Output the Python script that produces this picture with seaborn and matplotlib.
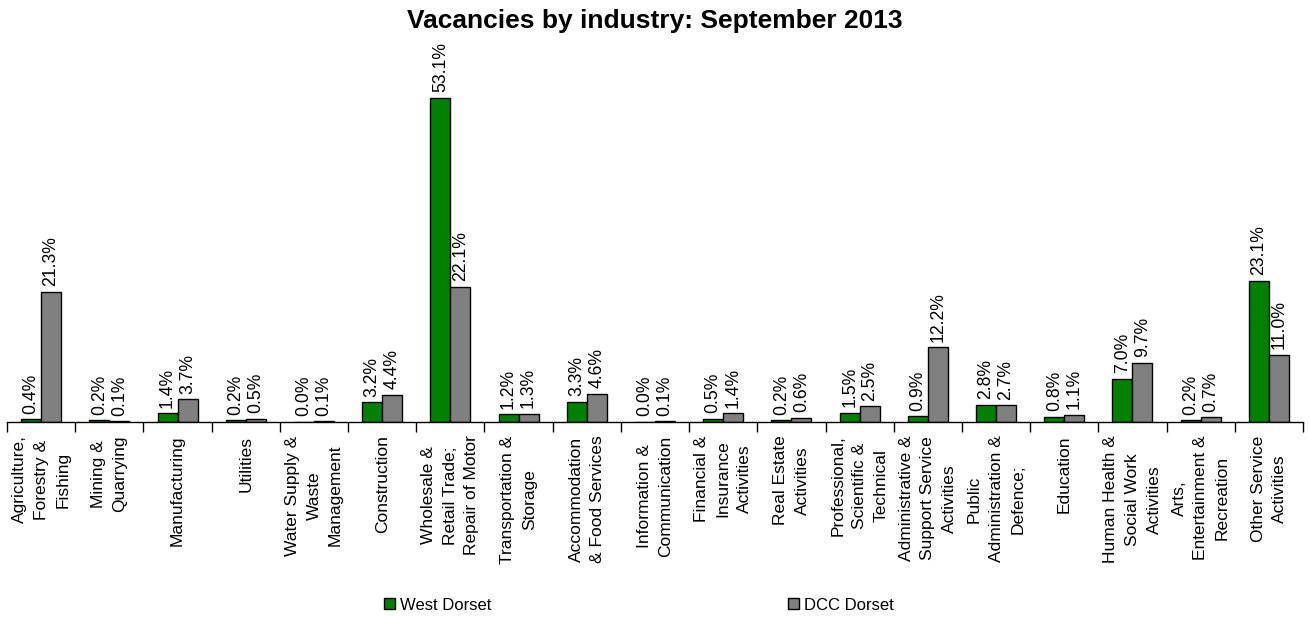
import matplotlib
matplotlib.use("Agg")
import matplotlib.pyplot as plt
from matplotlib.patches import Patch
import seaborn as sns
import pandas as pd
import numpy as np

industries = [
    "Agriculture,\nForestry &\nFishing",
    "Mining &\nQuarrying",
    "Manufacturing",
    "Utilities",
    "Water Supply &\nWaste\nManagement",
    "Construction",
    "Wholesale &\nRetail Trade;\nRepair of Motor",
    "Transportation &\nStorage",
    "Accommodation\n& Food Services",
    "Information &\nCommunication",
    "Financial &\nInsurance\nActivities",
    "Real Estate\nActivities",
    "Professional,\nScientific &\nTechnical",
    "Administrative &\nSupport Service\nActivities",
    "Public\nAdministration &\nDefence;",
    "Education",
    "Human Health &\nSocial Work\nActivities",
    "Arts,\nEntertainment &\nRecreation",
    "Other Service\nActivities",
]
west_dorset = [0.4, 0.2, 1.4, 0.2, 0.0, 3.2, 53.1, 1.2, 3.3, 0.0,
               0.5, 0.2, 1.5, 0.9, 2.8, 0.8, 7.0, 0.2, 23.1]
dcc_dorset = [21.3, 0.1, 3.7, 0.5, 0.1, 4.4, 22.1, 1.3, 4.6, 0.1,
              1.4, 0.6, 2.5, 12.2, 2.7, 1.1, 9.7, 0.7, 11.0]
series_names = ["West Dorset", "DCC Dorset"]
series_colors = ["#008000", "#808080"]

df = pd.DataFrame({
    "industry": industries * 2,
    "area": [series_names[0]] * len(industries) + [series_names[1]] * len(industries),
    "share": west_dorset + dcc_dorset,
})

sns.set_style("white")
plt.rcParams["font.family"] = ["Liberation Sans", "DejaVu Sans"]
plt.rcParams["text.color"] = "black"
plt.rcParams["xtick.color"] = "black"
plt.rcParams["xtick.labelcolor"] = "black"
plt.rcParams["axes.labelcolor"] = "black"

fig = plt.figure(figsize=(13.1, 6.17), dpi=100)
ax = fig.add_axes([7 / 1310, 195.3 / 617, 1296 / 1310, 366 / 617])

sns.barplot(data=df, x="industry", y="share", hue="area",
            hue_order=series_names, palette=series_colors,
            order=industries, width=0.586, edgecolor="black",
            linewidth=1.0, saturation=1, ax=ax, legend=False)

for cont, vals in zip(ax.containers, [west_dorset, dcc_dorset]):
    ax.bar_label(cont, labels=[f"{v:.1f}%" for v in vals], rotation=90,
                 padding=4, fontsize=12.7, color="black")

ax.set_xlim(-0.5, len(industries) - 0.5)
ax.set_ylim(0, 60)
ax.set_yticks([])
ax.set_xlabel("")
ax.set_ylabel("")
for side in ["left", "top", "right"]:
    ax.spines[side].set_visible(False)
ax.spines["bottom"].set_color("black")
ax.spines["bottom"].set_linewidth(1.0)

ax.set_xticks(np.arange(len(industries)))
ax.set_xticklabels(industries, rotation=90, fontsize=12.5,
                   ha="center", va="top", multialignment="center",
                   linespacing=1.55, color="black")
ax.tick_params(axis="x", which="major", length=0, pad=10)
ax.set_xticks(np.arange(len(industries) + 1) - 0.5, minor=True)
ax.tick_params(axis="x", which="minor", length=7, width=1,
               color="black", direction="out", bottom=True)

fig.suptitle("Vacancies by industry: September 2013", fontsize=19,
             fontweight="bold", color="black", x=0.5, y=1 - 21 / 617,
             va="center")

handles = [Patch(facecolor=c, edgecolor="black", linewidth=1.0)
           for c in series_colors]
fig.legend(handles, series_names, loc="center",
           bbox_to_anchor=(639 / 1310, 1 - 605 / 617), ncol=2,
           frameon=False, fontsize=12, handlelength=0.65,
           handleheight=0.65, handletextpad=0.3, columnspacing=17.8,
           labelcolor="black")

fig.savefig("out.png", dpi=100)
